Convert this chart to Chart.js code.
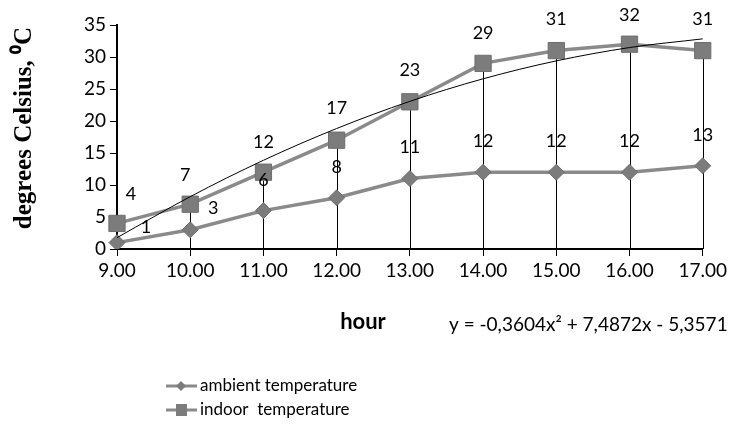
<!DOCTYPE html>
<html>
<head>
<meta charset="utf-8">
<script src="https://cdn.jsdelivr.net/npm/chart.js@4/dist/chart.umd.min.js"></script>
<style>
  html, body { margin: 0; padding: 0; background: #fff; }
  #wrap { width: 730px; height: 425px; }
</style>
</head>
<body>
<div id="wrap"><canvas id="tempChart" width="730" height="425"></canvas></div>
<script>
const hours = ['9.00', '10.00', '11.00', '12.00', '13.00', '14.00', '15.00', '16.00', '17.00'];
const ambient = [1, 3, 6, 8, 11, 12, 12, 12, 13];
const indoor = [4, 7, 12, 17, 23, 29, 31, 32, 31];
// polynomial trendline printed on the chart: y = a*x^2 + b*x + c, x = 1..9
const trendCoef = [-0.3604, 7.4872, -5.3571];
const trendText = 'y = -0,3604x\u00B2 + 7,4872x - 5,3571';
const yTicks = [0, 5, 10, 15, 20, 25, 30, 35];

const trend = hours.map((h, i) => {
  const x = i + 1;
  return trendCoef[0] * x * x + trendCoef[1] * x + trendCoef[2];
});

const font = 'Lato, "Open Sans", sans-serif';
const lineGray = '#8a8a8a';
const markGray = '#7c7c7c';

// label offsets (px) relative to the point, per dataset
const labelShift = {
  0: [[29, -15], [23, -22], [0, -30], [0, -31], [0, -31], [0, -31], [0, -31], [0, -31], [0, -31]],
  1: [[14, -29], [-5, -29], [0, -30], [0, -32], [0, -32], [0, -30], [0, -31], [0, -29], [0, -31]]
};

const extras = {
  id: 'extras',
  beforeDatasetsDraw(chart) {
    const ctx = chart.ctx;
    const meta = chart.getDatasetMeta(1);
    const bottom = chart.chartArea.bottom;
    ctx.save();
    ctx.strokeStyle = '#000';
    ctx.lineWidth = 1;
    meta.data.forEach(pt => {
      ctx.beginPath();
      ctx.moveTo(Math.round(pt.x) + 0.5, pt.y);
      ctx.lineTo(Math.round(pt.x) + 0.5, bottom);
      ctx.stroke();
    });
    ctx.restore();
  },
  afterDraw(chart) {
    const ctx = chart.ctx;
    ctx.save();
    ctx.fillStyle = '#000';
    // value labels
    ctx.font = '18px ' + font;
    ctx.textAlign = 'center';
    ctx.textBaseline = 'middle';
    [0, 1].forEach(di => {
      const meta = chart.getDatasetMeta(di);
      const vals = chart.data.datasets[di].data;
      meta.data.forEach((pt, i) => {
        const s = labelShift[di][i];
        ctx.fillText(String(vals[i]), pt.x + s[0], pt.y + s[1]);
      });
    });

    // y axis title
    ctx.save();
    ctx.translate(25, 128);
    ctx.rotate(-Math.PI / 2);
    ctx.font = 'bold 25px "Liberation Serif", serif';
    ctx.fillText('degrees Celsius, \u2070C', 0, 0);
    ctx.restore();

    // x axis title + equation
    ctx.font = 'bold 22px ' + font;
    ctx.fillText('hour', 363, 322);
    ctx.font = '19px ' + font;
    ctx.textAlign = 'left';
    ctx.fillText(trendText, 449, 325);

    // legend
    const rows = [
      { label: 'ambient temperature', y: 386, shape: 'diamond' },
      { label: 'indoor  temperature', y: 410, shape: 'square' }
    ];
    rows.forEach(r => {
      ctx.strokeStyle = lineGray;
      ctx.lineWidth = 3;
      ctx.beginPath();
      ctx.moveTo(166, r.y);
      ctx.lineTo(197, r.y);
      ctx.stroke();
      ctx.fillStyle = markGray;
      ctx.beginPath();
      if (r.shape === 'diamond') {
        ctx.moveTo(181, r.y - 5); ctx.lineTo(186, r.y); ctx.lineTo(181, r.y + 5); ctx.lineTo(176, r.y);
        ctx.closePath(); ctx.fill();
      } else {
        ctx.fillRect(176, r.y - 6, 11, 12);
      }
      ctx.fillStyle = '#000';
      ctx.font = '17px ' + font;
      ctx.fillText(r.label, 200, r.y);
    });
    ctx.restore();
  }
};

new Chart(document.getElementById('tempChart'), {
  type: 'line',
  data: {
    labels: hours,
    datasets: [
      {
        label: 'ambient temperature',
        data: ambient,
        borderColor: lineGray,
        borderWidth: 3.5,
        backgroundColor: markGray,
        pointStyle: 'rectRot',
        pointRadius: 8,
        pointBorderWidth: 1,
        pointBorderColor: '#6e6e6e',
        order: 2
      },
      {
        label: 'indoor temperature',
        data: indoor,
        borderColor: lineGray,
        borderWidth: 3.5,
        backgroundColor: markGray,
        pointStyle: 'rect',
        pointRadius: 11.5,
        pointBorderWidth: 1,
        pointBorderColor: '#6e6e6e',
        order: 1
      },
      {
        label: 'trend',
        data: trend,
        borderColor: '#000',
        borderWidth: 1,
        pointRadius: 0,
        tension: 0.4,
        cubicInterpolationMode: 'monotone',
        order: 0
      }
    ]
  },
  options: {
    responsive: false,
    animation: false,
    layout: { padding: { top: 25, right: 27, left: 0, bottom: 0 } },
    plugins: { legend: { display: false }, tooltip: { enabled: false } },
    scales: {
      x: {
        offset: false,
        grid: { drawOnChartArea: false, drawTicks: true, tickLength: 7, color: '#000' },
        border: { color: '#000', width: 2 },
        ticks: { color: '#000', font: { family: font, size: 19 }, maxRotation: 0, padding: 3 },
        afterFit(scale) { scale.height = 176; }
      },
      y: {
        min: 0,
        max: 35,
        afterBuildTicks(scale) { scale.ticks = yTicks.map(v => ({ value: v })); },
        grid: { drawOnChartArea: false, drawTicks: true, tickLength: 7, color: '#000' },
        border: { color: '#000', width: 2 },
        ticks: { color: '#000', font: { family: font, size: 19 }, padding: 4 },
        afterFit(scale) { scale.width = 117; }
      }
    }
  },
  plugins: [extras]
});
</script>
</body>
</html>
